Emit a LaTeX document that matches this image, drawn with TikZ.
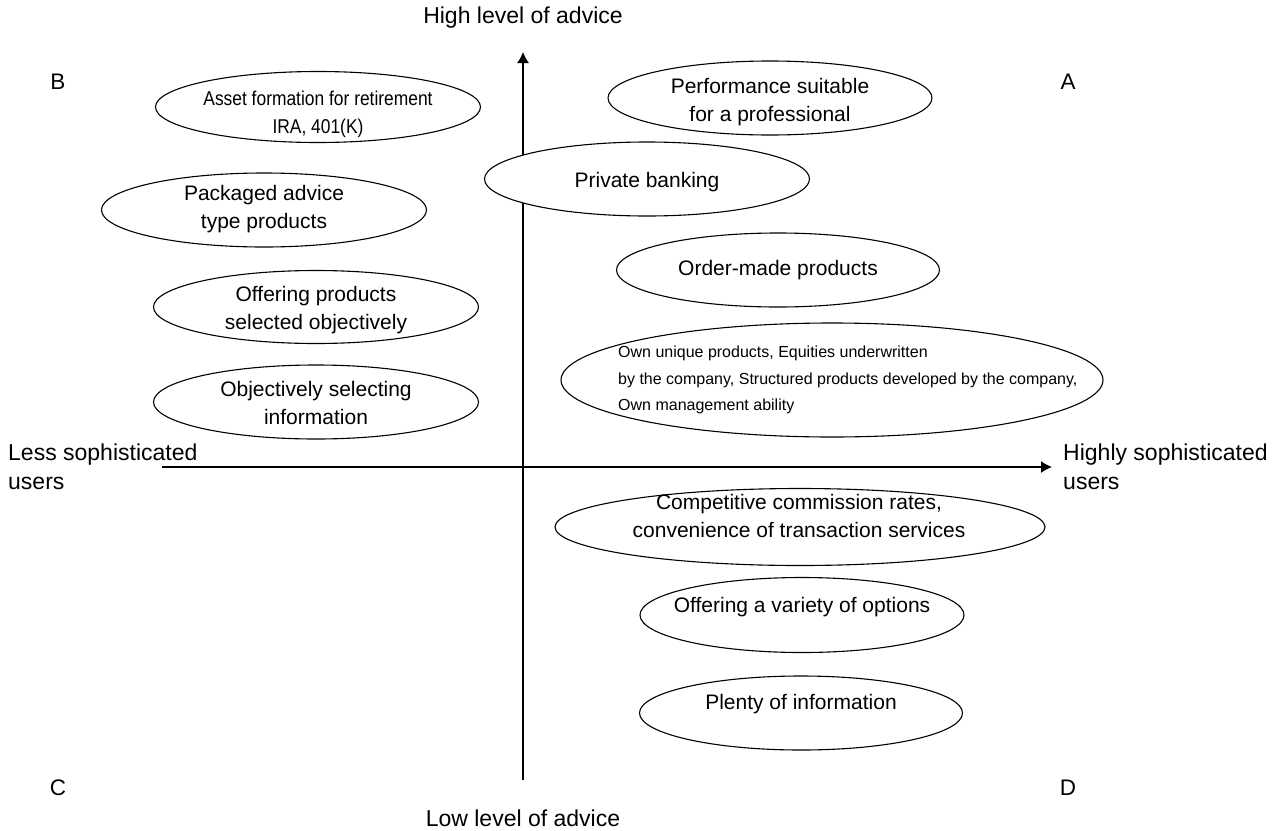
\documentclass[tikz,border=0pt]{standalone}
\usepackage{fontspec}
\setmainfont{Liberation Sans}
\usetikzlibrary{shapes.geometric,arrows.meta}
\begin{document}
\begin{tikzpicture}[x=1pt,y=-1pt,
  oval/.style={draw,fill=white,ellipse,line width=1.1pt,inner sep=0pt},
  ovaltext/.style={align=center,font=\fontsize{21}{28}\selectfont,inner sep=0pt},
  axisline/.style={line width=1.3pt,-{Latex[length=11pt,width=12pt]}},
  axlabel/.style={font=\fontsize{23}{29}\selectfont,inner sep=0pt},
  quad/.style={font=\fontsize{22.5}{26}\selectfont,inner sep=0pt}]
\useasboundingbox (0,0) rectangle (1287,830);

% axes
\coordinate (vbot) at (523,780);
\coordinate (vtop) at (523,52);
\coordinate (hleft) at (162,467);
\coordinate (hright) at (1052,467);
\draw[axisline] (vbot) -- (vtop);
\draw[axisline] (hleft) -- (hright);

% axis labels
\node[axlabel] (high) at (523,18) {High level of advice};
\node[axlabel] (low) at (523,818) {Low level of advice};
\node[axlabel,align=left,anchor=west] (less) at (8,467) {Less sophisticated\\users};
\node[axlabel,align=left,anchor=west] (more) at (1063,467) {Highly sophisticated\\users};

% quadrant letters
\node[quad] (qB) at (58,82) {B};
\node[quad] (qA) at (1068,82) {A};
\node[quad] (qC) at (58,788) {C};
\node[quad] (qD) at (1068,788) {D};

% ellipses
\node[oval,minimum width=325pt,minimum height=71pt] (e1) at (318,107) {};
\node[oval,minimum width=324pt,minimum height=74pt] (e2) at (770,98) {};
\node[oval,minimum width=325pt,minimum height=74pt] (e3) at (647,179) {};
\node[oval,minimum width=325pt,minimum height=74pt] (e4) at (264,210) {};
\node[oval,minimum width=323pt,minimum height=74pt] (e5) at (778,270) {};
\node[oval,minimum width=325pt,minimum height=73pt] (e6) at (316,307) {};
\node[oval,minimum width=542pt,minimum height=114pt] (e7) at (832,380) {};
\node[oval,minimum width=325pt,minimum height=74pt] (e8) at (316,402) {};
\node[oval,minimum width=490pt,minimum height=77pt] (e9) at (800,527) {};
\node[oval,minimum width=324pt,minimum height=75pt] (e10) at (802,615) {};
\node[oval,minimum width=323pt,minimum height=74pt] (e11) at (801,713) {};

% ellipse texts
\node[ovaltext,font=\fontsize{20}{28}\selectfont] (t1) at (318,114)
  {\scalebox{0.87}[1]{Asset formation for retirement}\\\scalebox{0.87}[1]{IRA, 401(K)}};
\node[ovaltext] (t2) at (770,102) {Performance suitable\\for a professional};
\node[ovaltext] (t3) at (647,182) {Private banking};
\node[ovaltext] (t4) at (264,209) {Packaged advice\\type products};
\node[ovaltext] (t5) at (778,270) {Order-made products};
\node[ovaltext] (t6) at (316,310) {Offering products\\selected objectively};
\node[ovaltext,align=left,anchor=west,font=\fontsize{16}{26.5}\selectfont] (t7) at (618,380)
  {Own unique products, Equities underwritten\\by the company, Structured products developed by the company,\\Own management ability};
\node[ovaltext] (t8) at (316,403) {Objectively selecting\\information};
\node[ovaltext] (t9) at (799,516) {Competitive commission rates,\\convenience of transaction services};
\node[ovaltext] (t10) at (802,607) {Offering a variety of options};
\node[ovaltext] (t11) at (801,704) {Plenty of information};
\end{tikzpicture}
\end{document}
